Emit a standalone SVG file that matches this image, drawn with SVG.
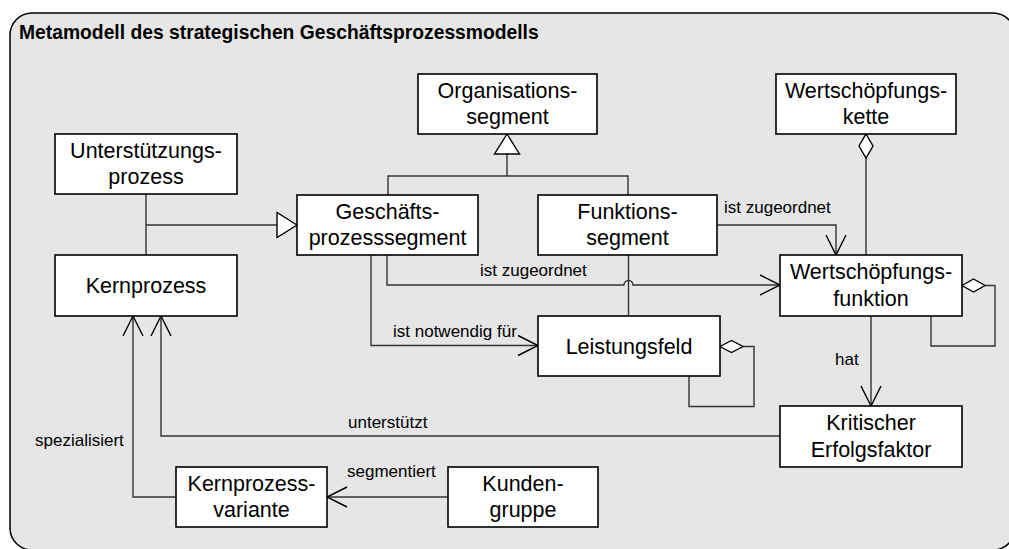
<svg xmlns="http://www.w3.org/2000/svg" width="1009" height="549" viewBox="0 0 1009 549">
  <defs>
    <style>
      .frame { fill: #e6e6e6; stroke: #000; stroke-width: 1.5; }
      .box { fill: #fff; stroke: #000; stroke-width: 1.6; }
      .node text { font-family: "Liberation Sans", Arial, sans-serif; font-size: 21.5px; fill: #000; text-anchor: middle; }
      .title { font-family: "Liberation Sans", Arial, sans-serif; font-size: 19.3px; font-weight: bold; fill: #000; }
      .lbl { font-family: "Liberation Sans", Arial, sans-serif; font-size: 17px; fill: #000; }
      .ln { fill: none; stroke: #333; stroke-width: 1.4; }
      .head { fill: none; stroke: #000; stroke-width: 1.4; }
      .tri { fill: #fff; stroke: #000; stroke-width: 1.4; }
    </style>
  </defs>

  <!-- package frame -->
  <rect class="frame" x="10" y="13" width="1005" height="537" rx="22" ry="22"/>
  <text class="title" x="19" y="39">Metamodell des strategischen Geschäftsprozessmodells</text>

  <!-- connectors -->
  <g id="connectors">
    <!-- generalisation to Organisationssegment -->
    <path class="ln" d="M388 195 V176 H628 V195 M507 176 V154"/>
    <path class="tri" d="M507 134 L519.5 154 L494.5 154 Z"/>

    <!-- generalisation to Geschäftsprozesssegment -->
    <path class="ln" d="M146 194 V255 M146 225 H277"/>
    <path class="tri" d="M297 225 L277 212.5 L277 237.5 Z"/>

    <!-- Funktionssegment ist zugeordnet Wertschöpfungsfunktion -->
    <path class="ln" d="M717 225 H836 V255"/>
    <path class="head" d="M826 235 L836 255 L846 235"/>

    <!-- Wertschöpfungskette aggregates Wertschöpfungsfunktion -->
    <path class="ln" d="M866 158 V255"/>
    <path class="tri" d="M866 134 L873 146 L866 158 L859 146 Z"/>

    <!-- Geschäftsprozesssegment ist zugeordnet Wertschöpfungsfunktion (with hop) -->
    <path class="ln" d="M387 255 V285 H624 A4.5 4.5 0 0 1 633 285 H780"/>
    <path class="head" d="M760 275 L780 285 L760 295"/>

    <!-- Funktionssegment to Leistungsfeld -->
    <path class="ln" d="M628.5 255 V316"/>

    <!-- Geschäftsprozesssegment ist notwendig für Leistungsfeld -->
    <path class="ln" d="M371 255 V345.5 H538"/>
    <path class="head" d="M518 335.5 L538 345.5 L518 355.5"/>

    <!-- Leistungsfeld self aggregation -->
    <path class="ln" d="M743 346.5 H754 V406.5 H689 V376"/>
    <path class="tri" d="M720 346.5 L731.5 340.5 L743 346.5 L731.5 352.5 Z"/>

    <!-- Wertschöpfungsfunktion self aggregation -->
    <path class="ln" d="M985 285.5 H995 V346 H931 V316"/>
    <path class="tri" d="M962 285.5 L973.5 279 L985 285.5 L973.5 292 Z"/>

    <!-- Wertschöpfungsfunktion hat Kritischer Erfolgsfaktor -->
    <path class="ln" d="M871 316 V406"/>
    <path class="head" d="M861 386 L871 406 L881 386"/>

    <!-- Kritischer Erfolgsfaktor unterstützt Kernprozess -->
    <path class="ln" d="M780 436 H161 V316"/>
    <path class="head" d="M151 336 L161 316 L171 336"/>

    <!-- Kernprozessvariante spezialisiert Kernprozess -->
    <path class="ln" d="M176 497 H133 V316"/>
    <path class="head" d="M123 336 L133 316 L143 336"/>

    <!-- Kundengruppe segmentiert Kernprozessvariante -->
    <path class="ln" d="M448 497 H327"/>
    <path class="head" d="M347 487 L327 497 L347 507"/>

    <!-- connector labels -->
    <text class="lbl" x="724" y="213">ist zugeordnet</text>
    <text class="lbl" x="480" y="276">ist zugeordnet</text>
    <text class="lbl" x="393" y="337">ist notwendig für</text>
    <text class="lbl" x="835" y="365">hat</text>
    <text class="lbl" x="348" y="428">unterstützt</text>
    <text class="lbl" x="35" y="446">spezialisiert</text>
    <text class="lbl" x="347" y="477">segmentiert</text>
  </g>

  <!-- nodes -->
  <g id="organisationssegment" class="node">
    <rect class="box" x="418" y="74" width="179" height="60"/>
    <text x="507.5" y="97.5">Organisations-</text>
    <text x="507.5" y="124">segment</text>
  </g>
  <g id="wertschoepfungskette" class="node">
    <rect class="box" x="776" y="74" width="180" height="60"/>
    <text x="866" y="97.5">Wertschöpfungs-</text>
    <text x="866" y="124">kette</text>
  </g>
  <g id="unterstuetzungsprozess" class="node">
    <rect class="box" x="55" y="134" width="182" height="60"/>
    <text x="146" y="157.5">Unterstützungs-</text>
    <text x="146" y="184">prozess</text>
  </g>
  <g id="geschaeftsprozesssegment" class="node">
    <rect class="box" x="297" y="195" width="181" height="60"/>
    <text x="387.5" y="218.5">Geschäfts-</text>
    <text x="387.5" y="245">prozesssegment</text>
  </g>
  <g id="funktionssegment" class="node">
    <rect class="box" x="538" y="195" width="179" height="60"/>
    <text x="627.5" y="218.5">Funktions-</text>
    <text x="627.5" y="245">segment</text>
  </g>
  <g id="kernprozess" class="node">
    <rect class="box" x="55" y="255" width="182" height="61"/>
    <text x="146" y="293">Kernprozess</text>
  </g>
  <g id="wertschoepfungsfunktion" class="node">
    <rect class="box" x="780" y="255" width="182" height="61"/>
    <text x="871" y="279">Wertschöpfungs-</text>
    <text x="871" y="305.5">funktion</text>
  </g>
  <g id="leistungsfeld" class="node">
    <rect class="box" x="538" y="316" width="182" height="60"/>
    <text x="629" y="353.5">Leistungsfeld</text>
  </g>
  <g id="kritischer-erfolgsfaktor" class="node">
    <rect class="box" x="780" y="406" width="182" height="61"/>
    <text x="871" y="430">Kritischer</text>
    <text x="871" y="456.5">Erfolgsfaktor</text>
  </g>
  <g id="kernprozessvariante" class="node">
    <rect class="box" x="176" y="467" width="151" height="60"/>
    <text x="251.5" y="490.5">Kernprozess-</text>
    <text x="251.5" y="517">variante</text>
  </g>
  <g id="kundengruppe" class="node">
    <rect class="box" x="448" y="467" width="150" height="60"/>
    <text x="523" y="490.5">Kunden-</text>
    <text x="523" y="517">gruppe</text>
  </g>
</svg>
